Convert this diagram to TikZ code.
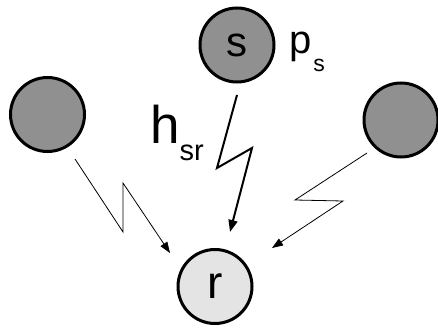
\documentclass[tikz,border=0pt]{standalone}
\usepackage{fontspec}
\setmainfont{Liberation Sans}
\usetikzlibrary{arrows.meta}
\definecolor{nodedark}{RGB}{144,144,144}
\definecolor{nodelight}{RGB}{228,228,228}
\tikzset{
  station/.style={circle, draw=black, line width=3pt, minimum size=74pt, inner sep=0pt},
  bigletter/.style={font=\fontsize{42}{42}\selectfont},
  boltmain/.style={line width=2pt, -{Triangle[length=12pt,width=9pt]}},
  boltthin/.style={line width=0.8pt, -{Triangle[length=11pt,width=8pt]}}
}
\begin{document}
\begin{tikzpicture}[x=1pt,y=-1pt]
  \useasboundingbox (0,0) rectangle (438,331);

  % nodes
  \node[station, fill=nodedark, bigletter] (s) at (237,45) {s};
  \node[station, fill=nodedark] (u1) at (47.5,114.5) {};
  \node[station, fill=nodedark] (u2) at (401,120) {};
  \node[station, fill=nodelight, font=\fontsize{46}{46}\selectfont] (r) at (215,286.5) {r};

  % labels
  \node[anchor=base west, inner sep=0pt, font=\fontsize{40}{40}\selectfont] (ps) at (289,54)
    {p\hspace{2pt}\raisebox{-18pt}{\fontsize{23}{23}\selectfont s}};
  \node[anchor=base west, inner sep=0pt, font=\fontsize{53}{53}\selectfont] (hsr) at (150,143)
    {h\raisebox{-17pt}{\fontsize{29}{29}\selectfont sr}};

  % bend points of the zig-zag links
  \coordinate (s0) at (237,95);
  \coordinate (s1) at (217,168);
  \coordinate (s2) at (252,148);
  \coordinate (s3) at (230,232);

  \coordinate (a0) at (75,159);
  \coordinate (a1) at (123,232);
  \coordinate (a2) at (123,183);
  \coordinate (a3) at (170,253);

  \coordinate (b0) at (367,153);
  \coordinate (b1) at (295,200);
  \coordinate (b2) at (343,201);
  \coordinate (b3) at (272,248);

  % links
  \draw[boltmain] (s0) -- (s1) -- (s2) -- (s3);
  \draw[boltthin] (a0) -- (a1) -- (a2) -- (a3);
  \draw[boltthin] (b0) -- (b1) -- (b2) -- (b3);
\end{tikzpicture}
\end{document}
